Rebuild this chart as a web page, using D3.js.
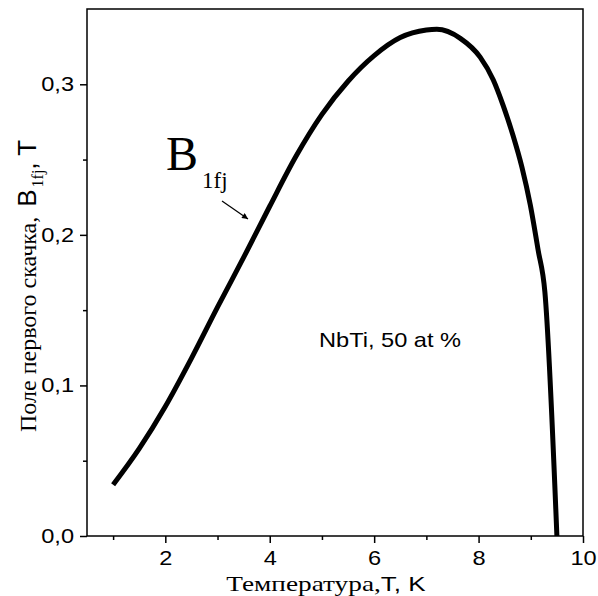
<!DOCTYPE html>
<html><head><meta charset="utf-8">
<script src="https://cdn.jsdelivr.net/npm/d3@7"></script>
<style>body{margin:0;background:#fff}svg{display:block}</style>
</head><body>
<svg id="c" width="598" height="596"></svg>
<script>
const temperatures = [1.0, 1.5, 2.0, 2.5, 3.0, 3.5, 4.0, 4.5, 5.0, 5.5, 6.0, 6.5, 7.0, 7.2, 7.65, 8.03, 8.28, 8.47, 8.66, 8.83, 8.99, 9.14, 9.27, 9.5];
const fieldValues  = [0.034, 0.058, 0.086, 0.118, 0.152, 0.185, 0.219, 0.252, 0.280, 0.302, 0.319, 0.331, 0.336, 0.3365, 0.3305, 0.318, 0.303, 0.286, 0.266, 0.245, 0.220, 0.190, 0.162, 0.0];
const xMajorTicks = [2, 4, 6, 8, 10];
const xMinorTicks = [1, 3, 5, 7, 9];
const yMajorTicks = [0.0, 0.1, 0.2, 0.3];
const yMinorTicks = [0.05, 0.15, 0.25];
const noteText = "NbTi, 50 at %";

const SANS = "Liberation Sans, Arial, sans-serif";
const SERIF = "Liberation Serif, Times New Roman, serif";
const svg = d3.select("#c");
const L = 87, R = 583, T = 9, B = 536;
const x = d3.scaleLinear().domain([0.5, 10]).range([L, R]);
const y = d3.scaleLinear().domain([0, 0.35]).range([B, T]);
const fmt = v => d3.format(".1f")(v).replace(".", ",");
const SX = 1.18;

// frame
svg.append("rect").attr("x", L).attr("y", T).attr("width", R - L).attr("height", B - T)
  .attr("fill", "none").attr("stroke", "#000").attr("stroke-width", 1.5);

// axes
const xAx = svg.append("g").attr("transform", `translate(0,${B})`)
  .call(d3.axisBottom(x).tickValues(xMajorTicks).tickSize(7).tickPadding(11).tickFormat(d3.format("d")));
const xMin = svg.append("g").attr("transform", `translate(0,${B})`)
  .call(d3.axisBottom(x).tickValues(xMinorTicks).tickSize(4).tickFormat(""));
const yAx = svg.append("g").attr("transform", `translate(${L},0)`)
  .call(d3.axisLeft(y).tickValues(yMajorTicks).tickSize(7).tickPadding(6).tickFormat(fmt));
const yMin = svg.append("g").attr("transform", `translate(${L},0)`)
  .call(d3.axisLeft(y).tickValues(yMinorTicks).tickSize(4).tickFormat(""));
[xAx, xMin, yAx, yMin].forEach(g => {
  g.select(".domain").remove();
  g.selectAll("line").attr("stroke", "#000").attr("stroke-width", 1.5);
  g.selectAll("text").attr("font-family", SANS).attr("font-size", 20).attr("fill", "#000");
});
xAx.selectAll("text").attr("dy", "0.55em").attr("transform", `scale(${SX},1)`);
yAx.selectAll("text").attr("x", -13 / SX).attr("transform", `scale(${SX},1)`);

// curve
const pts = temperatures.map((t, i) => [t, fieldValues[i]]);
svg.append("path").datum(pts)
  .attr("d", d3.line().x(d => x(d[0])).y(d => y(d[1])).curve(d3.curveMonotoneX))
  .attr("fill", "none").attr("stroke", "#000").attr("stroke-width", 5).attr("stroke-linejoin", "round");

// y title
const yt = svg.append("text").attr("transform", "translate(36,432) rotate(-90)")
  .attr("text-anchor", "start").attr("fill", "#000").attr("font-size", 24);
yt.append("tspan").attr("font-family", SERIF).text("Поле первого скачка, ");
yt.append("tspan").attr("font-family", SANS).attr("font-size", 26).attr("dx", 4).text("B");
yt.append("tspan").attr("font-family", SERIF).attr("font-size", 16).attr("dy", 7).attr("dx", 2).text("1fj");
yt.append("tspan").attr("font-family", SANS).attr("font-size", 26).attr("dy", -7).text(", T");

// x title
const xt = svg.append("text").attr("transform", `translate(326,591) scale(1.24,1)`)
  .attr("text-anchor", "middle").attr("fill", "#000").attr("font-size", 22);
xt.append("tspan").attr("font-family", SERIF).text("Температура,");
xt.append("tspan").attr("font-family", SANS).attr("font-size", 21).text("T, K");

// B1fj label
const bl = svg.append("text").attr("x", 166).attr("y", 170).attr("fill", "#000")
  .attr("font-family", SERIF).attr("font-size", 48);
bl.append("tspan").text("B");
bl.append("tspan").attr("font-size", 23).attr("dx", 4).attr("dy", 18).text("1fj");

// arrow
svg.append("defs").append("marker").attr("id", "ah").attr("viewBox", "0 0 10 10")
  .attr("refX", 10).attr("refY", 5).attr("markerWidth", 9).attr("markerHeight", 6)
  .attr("orient", "auto").attr("markerUnits", "userSpaceOnUse")
  .append("path").attr("d", "M0,0L10,5L0,10z").attr("fill", "#000");
svg.append("line").attr("x1", 222).attr("y1", 201).attr("x2", 248).attr("y2", 219)
  .attr("stroke", "#000").attr("stroke-width", 1.2).attr("marker-end", "url(#ah)");

// note
svg.append("text").attr("transform", `translate(461,347) scale(${SX},1)`).attr("text-anchor", "end")
  .attr("fill", "#000").attr("font-family", SANS).attr("font-size", 20).text(noteText);
</script>
</body></html>
